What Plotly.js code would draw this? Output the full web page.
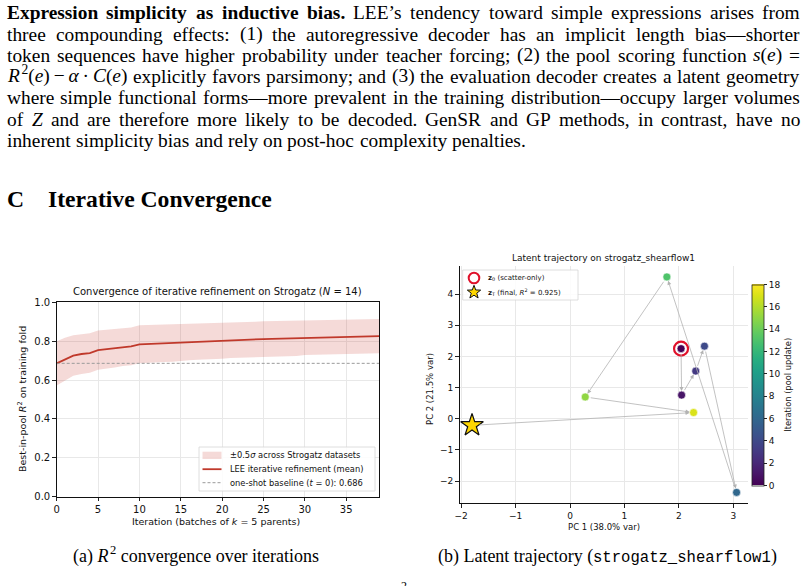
<!DOCTYPE html>
<html><head><meta charset="utf-8">
<script src="https://cdn.plot.ly/plotly-3.0.1.min.js"></script>
<style>html,body{margin:0;padding:0;background:#fff;overflow:hidden}</style>
</head><body><div id="chart" style="width:806px;height:586px"></div>
<script>
// ---------- data: panel (a) ----------
const iterations = [0,1,2,3,4,5,6,7,8,9,10,11,12,13,14,15,16,17,18,19,20,21,22,23,24,25,26,27,28,29,30,31,32,33,34,35,36,37,38,39];
const meanR2 = [0.686,0.708,0.726,0.734,0.739,0.754,0.758,0.763,0.769,0.773,0.784,0.786,0.788,0.789,0.790,0.794,0.796,0.798,0.799,0.800,0.803,0.805,0.806,0.808,0.809,0.811,0.812,0.813,0.814,0.815,0.819,0.820,0.820,0.821,0.821,0.822,0.823,0.824,0.825,0.826];
const bandUpper = [0.800,0.818,0.830,0.837,0.841,0.855,0.858,0.862,0.866,0.870,0.882,0.883,0.884,0.885,0.886,0.889,0.890,0.891,0.892,0.893,0.896,0.897,0.898,0.899,0.900,0.902,0.903,0.904,0.905,0.906,0.909,0.910,0.910,0.911,0.911,0.912,0.912,0.913,0.914,0.914];
const bandLower = [0.572,0.598,0.622,0.631,0.637,0.653,0.658,0.664,0.672,0.676,0.686,0.689,0.692,0.693,0.694,0.699,0.702,0.705,0.706,0.707,0.710,0.713,0.714,0.717,0.718,0.720,0.721,0.722,0.723,0.724,0.729,0.730,0.730,0.731,0.731,0.732,0.734,0.735,0.736,0.738];
const baselineR2 = 0.686;
const xTicksA = [0,5,10,15,20,25,30,35];
const yTicksA = [0,0.2,0.4,0.6,0.8,1.0];
const legendA = ['±0.5<i>σ</i> across Strogatz datasets', 'LEE iterative refinement (mean)', 'one-shot baseline (<i>t</i> = 0): 0.686'];

// ---------- data: panel (b) ----------
const pcX = [2.04, 2.05, 2.31, 2.47, 3.06, 1.78, 0.28, 2.27];
const pcY = [2.25, 0.76, 1.53, 2.33, -2.36, 4.55, 0.70, 0.20];
const poolIter = [0, 1, 3, 4, 6, 13, 15, 17];
const finalX = [-1.80];
const finalY = [-0.21];
const xTicksB = [-2,-1,0,1,2,3];
const yTicksB = [-2,-1,0,1,2,3,4];
const cbTicks = [0,2,4,6,8,10,12,14,16,18];
const legendB = ['<b>z</b><sub>0</sub> (scatter-only)', '<b>z</b><sub>T</sub> (final, <i>R</i><sup>2</sup> = 0.925)'];

// ---------- page text ----------
const paraLines = [
  "<b>Expression</b> <b>simplicity</b> <b>as</b> <b>inductive</b> <b>bias.</b> LEE’s tendency toward simple expressions arises from",
  "three compounding effects: (1) the autoregressive decoder has an implicit length bias—shorter",
  "token sequences have higher probability under teacher forcing; (2) the pool scoring function <i>s</i>(<i>e</i>) =",
  "<i>R</i>\u200a<sup>2</sup>(<i>e</i>)\u2009−\u2009<i>α</i>\u2009·\u2009<i>C</i>(<i>e</i>) explicitly favors parsimony; and (3) the evaluation decoder creates a latent geometry",
  "where simple functional forms—more prevalent in the training distribution—occupy larger volumes",
  "of <i>Z</i> and are therefore more likely to be decoded. GenSR and GP methods, in contrast, have no",
  "inherent simplicity bias and rely on post-hoc complexity penalties."
];
const headingLetter = "C";
const headingText = "Iterative Convergence";
const captionA = "(a) <i>R</i>\u200a<sup>2</sup> convergence over iterations";
const captionB = ["(b) Latent trajectory (", "strogatz_shearflow1", ")"];

// ---------- helpers ----------
const W = 806, H = 586;
const px = v => v / W;
const py = v => 1 - v / H;
const SERIF = 'Liberation Serif', SANS = 'DejaVu Sans', MONO = 'Liberation Mono';
const cv = document.createElement('canvas').getContext('2d');
function runs(html){
  const out=[]; let it=false,b=false,sup=false;
  html.split(/(<\/?(?:i|b|sup)>)/).forEach(tok=>{
    if(!tok) return;
    const m = tok.match(/^<(\/?)(i|b|sup)>$/);
    if(m){ const on = m[1]===''; if(m[2]==='i') it=on; else if(m[2]==='b') b=on; else sup=on; return; }
    out.push({t:tok,it,b,sup});
  });
  return out;
}
function measure(html, size, fam){
  let w=0;
  runs(html).forEach(r=>{
    cv.font = `${r.it?'italic ':''}${r.b?'bold ':''}${r.sup?size*0.7:size}px "${fam}"`;
    w += cv.measureText(r.t).width;
  });
  return w;
}
function txt(text, x, y, size, fam, xa, ya, extra){
  return Object.assign({text, x:px(x), y:py(y), xref:'paper', yref:'paper', xanchor:xa, yanchor:ya,
    showarrow:false, borderpad:0, borderwidth:0, font:{family:fam, size, color:'#000'}}, extra||{});
}

const anns = [];
const shapes = [];
// paragraph, justified (word by word)
const paraX0 = 6.7, paraX1 = 800, base0 = 19.3, step = 21.25, minGap = 4.2;
const paraMeta = [];
paraLines.forEach((line, li) => {
  const words = line.split(' ');
  const last = li === paraLines.length-1;
  let fs = 19.4;
  const nat = words.reduce((a,w)=>a+measure(w, fs, SERIF),0);
  if (!last && nat + (words.length-1)*minGap > paraX1-paraX0) fs = fs*(paraX1-paraX0-(words.length-1)*minGap)/nat;
  const widths = words.map(w => measure(w, fs, SERIF));
  const sum = widths.reduce((a,b)=>a+b,0);
  const gap = last ? measure(' ', fs, SERIF) : (paraX1-paraX0-sum)/(words.length-1);
  let x = paraX0;
  const yb = base0 + li*step + 0.216*fs;
  const idx = [];
  words.forEach((w,k)=>{ idx.push(anns.length); anns.push(txt(w, x, yb, fs, SERIF, 'left', 'bottom')); x += widths[k]+gap; });
  paraMeta.push({idx, last, space: measure(' ', fs, SERIF)});
});
// heading
const hFs = 24 * 224 / measure('<b>'+headingText+'</b>', 24, SERIF);
anns.push(txt('<b>'+headingLetter+'</b>', 6.7, 206.7 + 0.216*hFs, hFs, SERIF, 'left', 'bottom'));
anns.push(txt('<b>'+headingText+'</b>', 48.3, 206.7 + 0.216*hFs, hFs, SERIF, 'left', 'bottom'));
// captions
const cFs = 17 * 246 / measure(captionA, 17, SERIF);
anns.push(txt(captionA, 73.3, 563.3 + 0.216*cFs, cFs, SERIF, 'left', 'bottom'));
{
  const serifW = measure(captionB[0], cFs, SERIF) + measure(captionB[2], cFs, SERIF);
  const mFs = cFs * (339 - serifW) / measure(captionB[1], cFs, MONO);
  const sizes = [cFs, mFs, cFs], fams = [SERIF, MONO, SERIF];
  const ws = captionB.map((t,i)=>measure(t, sizes[i], fams[i]));
  let x = 438;
  captionB.forEach((t,i)=>{ anns.push(txt(t, x, 563.3 + 0.216*cFs, sizes[i], fams[i], 'left', 'bottom')); x += ws[i]; });
}
anns.push(txt('2', 404, 578.5, 12, SERIF, 'center', 'top'));

// chart titles / axis titles
const sans = (s)=>({family:SANS, size:s, color:'#111'});
anns.push(txt('Convergence of iterative refinement on Strogatz (<i>N</i> = 14)', 217.7, 291.7, 10, SANS, 'center', 'middle', {font:sans(10)}));
anns.push(txt('Iteration (batches of <i>k</i> = 5 parents)', 216, 521.7, 9.5, SANS, 'center', 'middle', {font:sans(9.5)}));
anns.push(txt('Best-in-pool <i>R</i><sup>2</sup> on training fold', 22, 399, 9.5, SANS, 'center', 'middle', {textangle:-90, font:sans(9.5)}));
anns.push(txt('Latent trajectory on strogatz_shearflow1', 603, 257.7, 9, SANS, 'center', 'middle', {font:sans(9)}));
anns.push(txt('PC 1 (38.0% var)', 603.5, 526.7, 8.5, SANS, 'center', 'middle', {font:sans(8.5)}));
anns.push(txt('PC 2 (21.5% var)', 430, 389, 8.5, SANS, 'center', 'middle', {textangle:-90, font:sans(8.5)}));
anns.push(txt('Iteration (pool update)', 787.7, 385, 8.3, SANS, 'center', 'middle', {textangle:-90, font:sans(8.3)}));

// trajectory arrows (panel b)
for (let i = 0; i < pcX.length-1; i++) {
  anns.push({x:pcX[i+1], y:pcY[i+1], ax:pcX[i], ay:pcY[i], xref:'x2', yref:'y2', axref:'x2', ayref:'y2',
    text:'', showarrow:true, arrowhead:2, arrowsize:1, arrowwidth:0.8, arrowcolor:'#b3b3b3', standoff:4, startstandoff:4});
}
anns.push({x:pcX[pcX.length-1], y:pcY[pcY.length-1], ax:finalX[0], ay:finalY[0], xref:'x2', yref:'y2', axref:'x2', ayref:'y2',
  text:'', showarrow:true, arrowhead:2, arrowsize:1, arrowwidth:0.8, arrowcolor:'#b3b3b3', standoff:4, startstandoff:6});

// ---------- custom legends ----------
const red = '#c0392b';
const bandFill = 'rgba(205,70,60,0.2)';
const pRect = (x0,x1,y0,y1,o)=>Object.assign({type:'rect', xref:'paper', yref:'paper', x0:px(x0), x1:px(x1), y0:py(y1), y1:py(y0)}, o);
const pLine = (x0,x1,y,o)=>Object.assign({type:'line', xref:'paper', yref:'paper', x0:px(x0), x1:px(x1), y0:py(y), y1:py(y)}, o);
// legend (a)
shapes.push(pRect(199,375,447,491,{line:{color:'#d6d6d6', width:0.8}, fillcolor:'rgba(255,255,255,0.85)'}));
shapes.push(pRect(202.5,221.5,451.7,459,{line:{width:0}, fillcolor:bandFill}));
shapes.push(pLine(202.5,221.5,469.2,{line:{color:red, width:1.8}}));
shapes.push(pLine(202.5,221.5,482.7,{line:{color:'#9a9a9a', width:1, dash:'3px,2px'}}));
[455.3, 469.2, 482.7].forEach((y,i)=>anns.push(txt(legendA[i], 230, y, 8.3, SANS, 'left', 'middle', {font:sans(8.3)})));
// legend (b)
shapes.push(pRect(462.7,578,270,300,{line:{color:'#d6d6d6', width:0.8}, fillcolor:'rgba(255,255,255,0.85)'}));
shapes.push({type:'circle', xref:'paper', yref:'paper', x0:px(474-5.3), x1:px(474+5.3), y0:py(278+5.3), y1:py(278-5.3), line:{color:'#e0112b', width:2}});
{
  const cx = 474, cy = 292.3, R = 7, r = 2.9;
  let d = '';
  for (let k = 0; k < 10; k++) {
    const rad = k%2===0 ? R : r;
    const a = -Math.PI/2 + k*Math.PI/5;
    d += (k===0?'M ':' L ') + px(cx + rad*Math.cos(a)).toFixed(5) + ',' + py(cy + rad*Math.sin(a)).toFixed(5);
  }
  shapes.push({type:'path', xref:'paper', yref:'paper', path:d+' Z', fillcolor:'#FFD700', line:{color:'#111', width:1}});
}
[278, 292.3].forEach((y,i)=>anns.push(txt(legendB[i], 488.3, y, 7, SANS, 'left', 'middle', {font:sans(7)})));

// ---------- traces ----------
const traces = [
  {x:iterations, y:bandUpper, type:'scatter', mode:'lines', line:{width:0, color:red}, showlegend:false, hoverinfo:'skip', xaxis:'x', yaxis:'y'},
  {x:iterations, y:bandLower, type:'scatter', mode:'lines', line:{width:0, color:red}, fill:'tonexty', fillcolor:bandFill,
   name:legendA[0], showlegend:false, xaxis:'x', yaxis:'y'},
  {x:iterations, y:meanR2, type:'scatter', mode:'lines', line:{width:1.8, color:red}, name:legendA[1], showlegend:false, xaxis:'x', yaxis:'y'},
  {x:[iterations[0], iterations[iterations.length-1]], y:[baselineR2, baselineR2], type:'scatter', mode:'lines',
   line:{width:1, color:'#9a9a9a', dash:'3px,2px'}, name:legendA[2], showlegend:false, xaxis:'x', yaxis:'y'},
  {x:pcX, y:pcY, type:'scatter', mode:'markers', showlegend:false, xaxis:'x2', yaxis:'y2',
   marker:{size:8, color:poolIter, colorscale:'Viridis', cmin:0, cmax:18, line:{color:'#fff', width:0.6}, showscale:true,
     colorbar:{x:751.7/W, xanchor:'left', xpad:0, ypad:0, thickness:11.6, thicknessmode:'pixels', len:201.4/H, lenmode:'fraction',
       y:1-385/H, yanchor:'middle', outlinewidth:0.8, outlinecolor:'#222', tickmode:'array', tickvals:cbTicks, ticks:'outside',
       ticklen:3, tickcolor:'#222', tickfont:sans(9)}}},
  {x:[pcX[0]], y:[pcY[0]], type:'scatter', mode:'markers', name:legendB[0], showlegend:false, xaxis:'x2', yaxis:'y2',
   marker:{symbol:'circle-open', size:14, color:'#e0112b', line:{width:2.2}}},
  {x:finalX, y:finalY, type:'scatter', mode:'markers', name:legendB[1], showlegend:false, xaxis:'x2', yaxis:'y2',
   marker:{symbol:'star', size:17, color:'#FFD700', line:{color:'#111', width:1.2}}}
];

const axBase = {ticks:'outside', ticklen:3.5, tickcolor:'#222', tickwidth:1, showline:true, linecolor:'#111', linewidth:1,
  gridcolor:'#e8e8e8', gridwidth:1, zeroline:false, showgrid:true, tickmode:'array'};
const layout = {
  width:W, height:H, margin:{l:0,r:0,t:0,b:0}, paper_bgcolor:'#fff', plot_bgcolor:'#fff',
  font:{family:SANS, color:'#111'}, showlegend:false,
  xaxis:Object.assign({}, axBase, {domain:[56.7/W, 379.3/W], range:[0,39], tickvals:xTicksA, anchor:'y', mirror:true, tickfont:sans(10)}),
  yaxis:Object.assign({}, axBase, {domain:[1-496.7/H, 1-302.3/H], range:[0,1], tickvals:yTicksA, tickformat:'.1f', anchor:'x', mirror:true, tickfont:sans(10)}),
  xaxis2:Object.assign({}, axBase, {domain:[459.5/W, 748/W], range:[-2.03,3.27], tickvals:xTicksB, anchor:'y2', tickfont:sans(9)}),
  yaxis2:Object.assign({}, axBase, {domain:[1-503.3/H, 1-265.7/H], range:[-2.71,4.91], tickvals:yTicksB, anchor:'x2', tickfont:sans(9)}),
  annotations:anns,
  shapes:shapes
};
Plotly.newPlot('chart', traces, layout, {displayModeBar:false, staticPlot:true}).then(gd => {
  // second pass: justify with the widths actually rendered
  const realW = i => {
    const el = gd.querySelector('.annotation[data-index="' + i + '"] text');
    return el ? el.getBBox().width : null;
  };
  let ok = true;
  paraMeta.forEach(m => {
    const ws = m.idx.map(realW);
    if (ws.some(w => w === null || !isFinite(w))) { ok = false; return; }
    const sum = ws.reduce((a,b)=>a+b,0);
    const gap = m.last ? m.space : (paraX1-paraX0-sum)/(ws.length-1);
    let x = paraX0;
    m.idx.forEach((ai,k)=>{ anns[ai].x = px(x); x += ws[k] + gap; });
  });
  if (ok) Plotly.relayout(gd, {annotations: anns});
});
</script></body></html>
